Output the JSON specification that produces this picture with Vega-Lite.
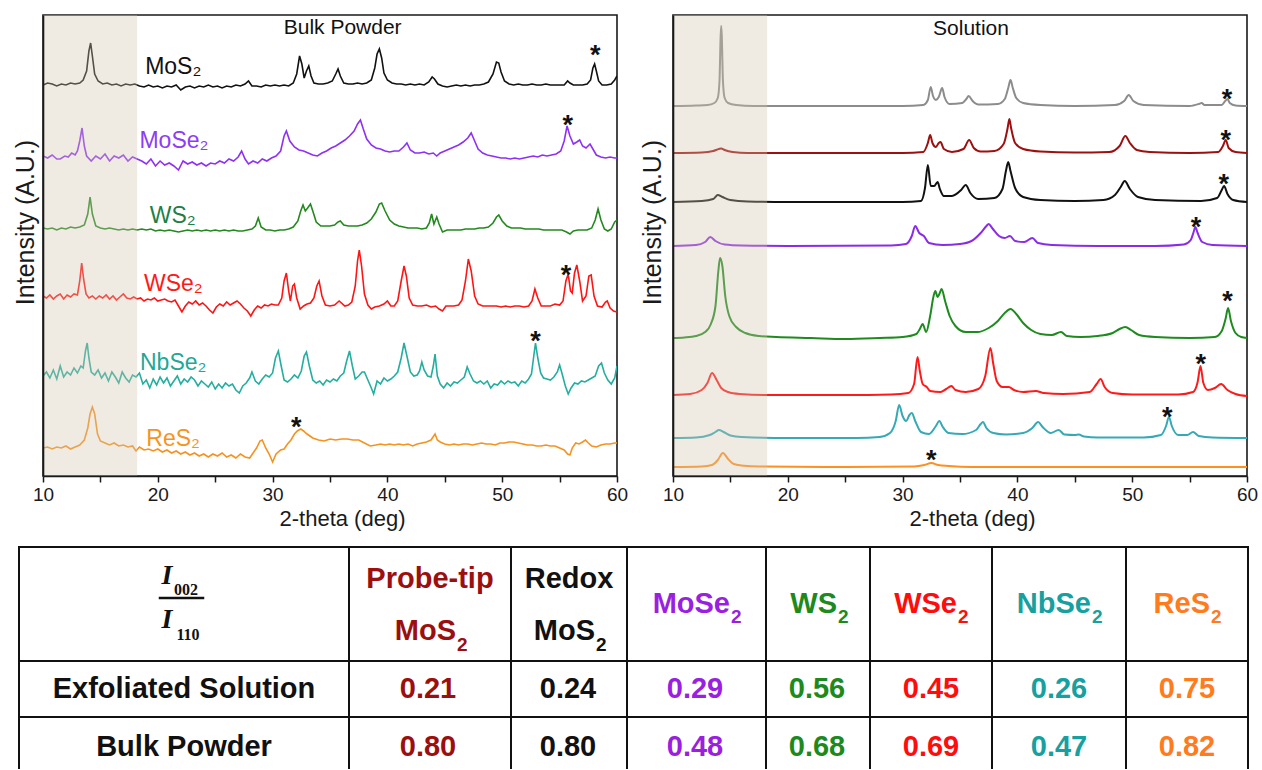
{
  "$schema": "https://vega.github.io/schema/vega-lite/v6.json",
  "background": "white",
  "padding": {"left": 12, "top": 14, "right": 0, "bottom": 0},
  "spacing": 15,
  "config": {
    "font": "Liberation Sans",
    "view": {"stroke": "#1a1a1a", "strokeWidth": 1.6}
  },
  "datasets": {
    "bulk": [
      {"s": "MoS2", "c": "#111111", "p": [[10,391],[10.4,393],[10.8,392],[11.2,390],[11.6,392],[12,391],[12.4,393],[12.8,392],[13.2,393],[13.5,396],[13.8,405],[14,425],[14.15,433],[14.3,420],[14.5,402],[14.8,395],[15.2,392],[15.6,393],[16,391],[16.4,392],[16.8,390],[17.2,392],[17.6,391],[18,392],[18.4,390],[18.8,389],[19.2,391],[19.6,389],[20,390],[20.4,388],[20.8,390],[21.2,389],[21.6,391],[22,386],[22.4,389],[22.8,390],[23.2,388],[23.6,390],[24,389],[24.4,391],[24.8,389],[25.2,390],[25.6,388],[26,390],[26.4,389],[26.8,391],[27.2,390],[27.6,392],[27.9,395],[28.2,390],[28.6,390],[29,389],[29.4,391],[29.8,390],[30.2,391],[30.6,390],[31,391],[31.4,390],[31.8,393],[32.1,402],[32.35,420],[32.55,412],[32.75,398],[32.95,405],[33.15,410],[33.35,400],[33.6,393],[34,392],[34.4,392],[34.8,393],[35.2,395],[35.5,402],[35.7,407],[35.9,400],[36.2,393],[36.6,392],[37,392],[37.4,393],[37.8,392],[38.2,393],[38.6,396],[38.9,408],[39.1,422],[39.3,427],[39.5,418],[39.7,403],[40,396],[40.4,393],[40.8,392],[41.2,392],[41.6,391],[42,392],[42.4,391],[42.8,392],[43.2,391],[43.6,394],[43.9,399],[44.1,397],[44.4,392],[44.8,390],[45.2,389],[45.6,390],[46,391],[46.4,390],[46.8,391],[47.2,390],[47.6,391],[48,391],[48.4,392],[48.8,394],[49.2,402],[49.5,414],[49.7,413],[49.9,404],[50.2,395],[50.6,392],[51,391],[51.4,392],[51.8,391],[52.2,391],[52.6,392],[53,391],[53.4,391],[53.8,392],[54.2,391],[54.6,391],[55,391],[55.4,391],[55.7,395],[55.9,393],[56.2,391],[56.6,391],[57,391],[57.4,392],[57.7,396],[57.9,408],[58.05,412],[58.2,405],[58.4,395],[58.7,391],[59.1,391],[59.5,392],[59.8,396],[60,400]]},
      {"s": "MoSe2", "c": "#8E30F5", "p": [[10,320],[10.4,318],[10.8,321],[11.2,317],[11.5,317],[11.9,320],[12.2,319],[12.5,323],[12.8,321],[13,325],[13.2,335],[13.4,348],[13.6,330],[13.8,320],[14.2,315],[14.6,320],[15,317],[15.4,322],[15.8,315],[16.2,320],[16.6,318],[17,321],[17.4,315],[17.8,319],[18.2,317],[18.6,315],[19,312],[19.4,317],[19.8,310],[20.2,315],[20.6,311],[21,313],[21.4,310],[21.8,306],[22.2,315],[22.6,312],[23,314],[23.4,311],[23.8,313],[24.2,310],[24.6,313],[25,312],[25.4,315],[25.8,313],[26.2,317],[26.6,315],[27,319],[27.3,325],[27.6,317],[27.9,312],[28.3,315],[28.7,313],[29.1,317],[29.5,315],[29.9,318],[30.3,320],[30.7,325],[31,340],[31.2,345],[31.5,335],[31.9,329],[32.3,326],[32.7,325],[33.1,323],[33.5,321],[33.9,320],[34.3,323],[34.7,325],[35.1,328],[35.5,330],[35.9,333],[36.3,336],[36.7,340],[37.1,345],[37.4,352],[37.65,356],[37.9,347],[38.2,337],[38.6,331],[39,328],[39.4,327],[39.8,325],[40.2,324],[40.6,325],[41,325],[41.4,329],[41.7,333],[42,326],[42.4,323],[42.8,323],[43.2,324],[43.6,322],[44,323],[44.3,320],[44.6,323],[45,325],[45.4,327],[45.8,329],[46.2,331],[46.6,334],[47,338],[47.3,343],[47.6,335],[47.9,327],[48.3,323],[48.7,321],[49.1,320],[49.5,319],[49.9,318],[50.3,318],[50.7,317],[51.1,318],[51.5,317],[51.9,318],[52.3,319],[52.7,320],[53.1,319],[53.5,321],[53.9,320],[54.3,321],[54.7,322],[55.1,325],[55.4,335],[55.65,350],[55.9,340],[56.2,332],[56.5,334],[56.75,336],[57,330],[57.3,328],[57.65,332],[57.9,327],[58.2,321],[58.6,319],[59,318],[59.4,319],[59.8,318],[60,318]]},
      {"s": "WS2", "c": "#23891F", "p": [[10,248],[10.4,247],[10.8,248],[11.2,246],[11.6,248],[12,247],[12.4,249],[12.8,248],[13.2,249],[13.6,251],[13.9,262],[14.1,279],[14.3,262],[14.6,250],[15,248],[15.4,247],[15.8,248],[16.2,247],[16.6,246],[17,247],[17.4,246],[17.8,247],[18.2,246],[18.6,247],[19,246],[19.4,247],[19.8,245],[20.2,246],[20.6,245],[21,246],[21.4,245],[21.8,244],[22.2,245],[22.6,246],[23,245],[23.4,246],[23.8,245],[24.2,246],[24.6,245],[25,246],[25.4,245],[25.8,246],[26.2,245],[26.6,246],[27,245],[27.4,245],[27.8,246],[28.2,247],[28.5,250],[28.75,258],[29,249],[29.4,246],[29.8,246],[30.2,245],[30.6,246],[31,246],[31.4,247],[31.8,249],[32.2,255],[32.45,265],[32.65,271],[32.85,265],[33.05,268],[33.3,272],[33.5,265],[33.8,254],[34.2,250],[34.6,250],[35,250],[35.4,251],[35.7,254],[35.9,255],[36.2,251],[36.6,250],[37,250],[37.4,250],[37.8,251],[38.2,253],[38.6,257],[39,264],[39.3,272],[39.5,273],[39.8,265],[40.2,256],[40.6,252],[41,250],[41.4,249],[41.8,248],[42.2,248],[42.6,248],[43,247],[43.4,248],[43.65,253],[43.85,262],[44.05,252],[44.3,259],[44.5,252],[44.8,244],[45.2,246],[45.6,246],[46,246],[46.4,246],[46.8,247],[47.2,247],[47.6,247],[48,248],[48.4,248],[48.8,249],[49.2,253],[49.5,259],[49.7,261],[50,255],[50.4,250],[50.8,248],[51.2,248],[51.6,248],[52,247],[52.4,247],[52.8,247],[53.2,247],[53.6,246],[54,246],[54.4,246],[54.8,246],[55.2,246],[55.6,244],[55.9,242],[56.2,245],[56.6,246],[57,246],[57.4,246],[57.8,248],[58.1,256],[58.35,267],[58.6,256],[58.9,247],[59.2,245],[59.5,247],[59.8,254],[60,256]]},
      {"s": "WSe2", "c": "#FF1414", "p": [[10,180],[10.3,178],[10.6,181],[10.9,177],[11.2,180],[11.5,182],[11.8,177],[12.1,181],[12.4,179],[12.7,182],[13,181],[13.2,195],[13.37,213],[13.55,196],[13.75,182],[14,178],[14.3,180],[14.6,177],[14.9,180],[15.2,178],[15.5,181],[15.8,177],[16.1,180],[16.4,176],[16.7,179],[17,182],[17.3,178],[17.6,177],[17.9,179],[18.2,177],[18.5,178],[18.8,175],[19.1,177],[19.4,176],[19.7,178],[20,175],[20.3,176],[20.6,177],[20.9,175],[21.2,174],[21.5,176],[21.8,170],[22.1,164],[22.4,170],[22.7,174],[23,172],[23.3,175],[23.6,171],[23.9,173],[24.2,170],[24.5,166],[24.8,163],[25.1,169],[25.4,172],[25.7,170],[26,174],[26.3,171],[26.6,173],[26.9,175],[27.2,172],[27.5,168],[27.8,165],[28.1,160],[28.4,166],[28.7,170],[29,168],[29.3,171],[29.6,170],[29.9,172],[30.2,171],[30.5,171],[30.8,178],[31,195],[31.2,203],[31.4,185],[31.55,175],[31.75,190],[31.9,192],[32.1,178],[32.4,167],[32.7,170],[33,172],[33.3,173],[33.6,178],[33.85,190],[34.05,195],[34.3,180],[34.6,171],[35,170],[35.4,171],[35.8,175],[36,173],[36.3,170],[36.6,171],[36.9,174],[37.2,190],[37.4,215],[37.55,226],[37.75,210],[38,182],[38.3,171],[38.6,167],[38.9,169],[39.3,170],[39.7,172],[40,175],[40.3,170],[40.6,170],[40.9,175],[41.2,195],[41.45,210],[41.65,200],[41.9,178],[42.2,171],[42.6,170],[43,170],[43.4,171],[43.8,169],[44.2,170],[44.5,167],[44.8,165],[45.1,170],[45.4,170],[45.8,170],[46.2,171],[46.5,176],[46.8,195],[47.05,217],[47.3,205],[47.6,180],[47.9,172],[48.3,170],[48.7,170],[49.1,170],[49.5,170],[49.9,169],[50.3,170],[50.7,169],[51.1,170],[51.5,170],[51.9,169],[52.3,170],[52.6,175],[52.85,187],[53.1,178],[53.4,170],[53.8,170],[54.2,170],[54.6,172],[55,171],[55.3,175],[55.55,195],[55.75,202],[55.95,185],[56.1,183],[56.3,203],[56.5,211],[56.75,195],[57,175],[57.3,180],[57.55,200],[57.75,201],[58,180],[58.3,170],[58.7,169],[59,174],[59.15,175],[59.4,168],[59.7,165],[60,164]]},
      {"s": "NbSe2", "c": "#23AE9F", "p": [[10,100],[10.3,104],[10.6,98],[10.9,106],[11.2,97],[11.5,110],[11.8,99],[12.1,104],[12.4,101],[12.7,108],[13,103],[13.3,110],[13.5,108],[13.7,125],[13.85,133],[14,118],[14.2,104],[14.5,101],[14.8,106],[15.1,98],[15.4,103],[15.7,95],[16,104],[16.3,99],[16.6,93],[16.9,104],[17.2,98],[17.5,94],[17.8,101],[18.1,99],[18.4,103],[18.7,92],[19,96],[19.3,88],[19.6,97],[19.9,91],[20.2,99],[20.5,93],[20.8,98],[21.1,90],[21.4,95],[21.7,100],[22,92],[22.3,97],[22.6,94],[22.9,99],[23.2,96],[23.5,90],[23.8,95],[24.1,92],[24.4,89],[24.7,94],[25,87],[25.3,92],[25.6,88],[25.9,93],[26.2,90],[26.5,92],[26.8,86],[27.1,83],[27.4,90],[27.7,93],[28,98],[28.2,104],[28.5,95],[28.8,92],[29.1,97],[29.4,101],[29.7,99],[30,103],[30.25,118],[30.5,125],[30.75,110],[31,96],[31.3,94],[31.6,97],[31.9,101],[32.2,98],[32.5,105],[32.75,120],[32.95,124],[33.2,110],[33.5,96],[33.8,93],[34.1,95],[34.4,91],[34.7,96],[35,94],[35.3,97],[35.6,95],[35.9,100],[36.2,103],[36.45,115],[36.7,125],[36.95,110],[37.2,97],[37.5,100],[37.8,104],[38,104],[38.3,96],[38.6,88],[38.8,82],[39.1,95],[39.4,92],[39.7,98],[40,95],[40.3,97],[40.6,100],[40.9,104],[41.2,118],[41.45,133],[41.7,120],[42,104],[42.3,100],[42.6,101],[42.8,105],[43,114],[43.2,106],[43.5,100],[43.8,99],[44,110],[44.15,122],[44.35,100],[44.6,92],[44.9,88],[45.2,93],[45.5,90],[45.8,94],[46.1,93],[46.4,96],[46.7,99],[46.95,109],[47.2,102],[47.5,95],[47.8,93],[48.1,95],[48.4,92],[48.7,95],[49,88],[49.3,92],[49.6,91],[49.9,95],[50.2,92],[50.5,95],[50.8,93],[51.1,94],[51.4,90],[51.7,95],[52,93],[52.3,97],[52.55,102],[52.75,120],[52.9,133],[53.1,118],[53.35,103],[53.6,98],[53.9,97],[54.2,96],[54.5,99],[54.8,104],[55,111],[55.2,103],[55.5,90],[55.75,82],[56,88],[56.3,93],[56.6,92],[56.9,95],[57.2,94],[57.5,96],[57.8,98],[58.1,100],[58.4,110],[58.65,113],[58.9,103],[59.2,96],[59.5,92],[59.8,98],[60,110]]},
      {"s": "ReS2", "c": "#F7921E", "p": [[10,28],[10.4,29],[10.8,27],[11.2,29],[11.6,28],[12,30],[12.4,27],[12.8,29],[13.2,31],[13.6,36],[13.9,48],[14.1,62],[14.3,69],[14.5,62],[14.75,42],[15,35],[15.4,33],[15.8,31],[16.2,33],[16.6,30],[17,31],[17.4,29],[17.8,30],[18.1,25],[18.4,29],[18.8,26],[19.2,27],[19.6,25],[20,27],[20.4,24],[20.8,26],[21.2,23],[21.6,25],[22,22],[22.4,24],[22.8,21],[23.2,23],[23.6,20],[24,22],[24.4,19],[24.8,22],[25.2,20],[25.6,23],[26,19],[26.4,21],[26.8,18],[27.2,22],[27.6,19],[28,18],[28.3,23],[28.6,28],[28.9,35],[29.1,36],[29.4,28],[29.7,22],[30,14],[30.3,22],[30.7,26],[31,27],[31.3,32],[31.6,36],[31.9,42],[32.15,45],[32.45,47],[32.7,45],[33,42],[33.5,38],[34,36],[34.5,35],[35,37],[35.5,36],[36,37],[36.5,37],[37,36],[37.5,36],[38,33],[38.5,30],[39,31],[39.4,32],[39.8,31],[40.2,32],[40.6,31],[41,32],[41.4,31],[41.8,32],[42.2,30],[42.6,32],[43,33],[43.4,34],[43.8,36],[44.15,42],[44.35,36],[44.6,34],[45,32],[45.4,31],[45.8,32],[46.2,31],[46.6,32],[47,32],[47.4,31],[47.8,32],[48.2,33],[48.6,32],[49,32],[49.4,31],[49.8,33],[50.2,33],[50.6,34],[51,34],[51.4,33],[51.8,32],[52.2,31],[52.6,31],[53,30],[53.4,30],[53.8,31],[54.2,30],[54.6,30],[55,28],[55.4,26],[55.7,22],[55.9,21],[56.1,28],[56.4,33],[56.7,32],[57,34],[57.25,36],[57.5,33],[57.8,30],[58.2,29],[58.6,31],[59,32],[59.4,32],[59.8,33],[60,33]]}
    ],
    "bulkLabels": [
      {"x": 18.9, "y": 409, "t": "MoS₂", "c": "#111111"},
      {"x": 18.4, "y": 335, "t": "MoSe₂", "c": "#8E3CF5"},
      {"x": 19.3, "y": 260, "t": "WS₂", "c": "#1F7F45"},
      {"x": 18.8, "y": 192, "t": "WSe₂", "c": "#FF1A1A"},
      {"x": 18.45, "y": 113, "t": "NbSe₂", "c": "#1FA896"},
      {"x": 19.0, "y": 37, "t": "ReS₂", "c": "#F7941D"}
    ],
    "bulkStars": [
      {"x": 58.1, "y": 427},
      {"x": 55.7, "y": 357},
      {"x": 55.55, "y": 207},
      {"x": 52.9, "y": 141},
      {"x": 32.05, "y": 55}
    ],
    "solution": [
      {"s": "gray", "c": "#8C8C8C", "p": [[10,370],[12,370.5],[13,371],[13.6,373],[13.9,378],[14.05,395],[14.15,440],[14.2,450],[14.25,440],[14.35,395],[14.5,378],[14.8,373],[15.5,371],[17,370],[20,370],[25,370],[30,370],[31.8,371],[32.2,376],[32.45,389],[32.65,380],[32.9,376],[33.15,379],[33.45,388],[33.65,379],[34.1,372],[35.2,373],[35.55,377],[35.75,380],[36.1,375],[36.6,371.5],[38.3,372],[38.9,377],[39.2,388],[39.4,396],[39.6,388],[39.9,378],[40.5,373],[42,371],[45,370],[48.5,371],[49.3,375],[49.7,381],[50.1,375],[51,371],[55,370],[55.8,372],[56.05,373],[56.3,371],[57.8,371],[58.1,375],[58.3,377],[58.5,373],[59,370.5],[60,370]]},
      {"s": "darkred", "c": "#9E1010", "p": [[10,323],[12.5,323.5],[13.5,325],[14,327],[14.2,327.5],[14.5,326],[15.2,324],[16.5,323],[20,323],[30,323],[31.8,324],[32.2,333],[32.4,341],[32.6,333],[32.9,329],[33.15,333],[33.3,334],[33.6,327],[34.3,324],[35.3,327],[35.8,336],[36.2,328],[36.8,324.5],[38,325],[38.8,332],[39.15,348],[39.3,357],[39.45,348],[39.8,333],[40.5,327],[42,324.5],[45,323.5],[48,324],[48.9,330],[49.4,340],[49.8,333],[50.4,326],[51.5,324],[55,323],[57.5,324],[57.9,330],[58.15,336],[58.4,328],[59,324],[60,323]]},
      {"s": "black", "c": "#111111", "p": [[10,274],[12.5,275],[13.5,277],[13.9,281],[14.3,279],[15,276],[16.5,274.5],[20,274],[30,274],[31.6,275],[31.95,288],[32.2,311],[32.45,290],[32.75,290],[33.05,294],[33.25,287],[33.6,280],[34.3,280],[35.1,286],[35.5,291],[35.9,283],[36.6,277],[38,278],[38.7,287],[39,305],[39.2,314],[39.4,305],[39.8,288],[40.5,279],[42,276],[45,275],[47.5,276],[48.5,281],[49,289],[49.35,295],[49.8,287],[50.5,279],[52,276],[56,275],[57.4,278],[57.8,286],[58,290],[58.3,282],[58.8,276],[60,274]]},
      {"s": "purple", "c": "#8A2BE8", "p": [[10,230],[12,231],[12.8,234],[13.25,239],[13.7,235],[14.5,231.5],[16,230.5],[20,230],[29,230.5],[30.3,232],[30.8,240],[31.1,250],[31.45,243],[31.85,240],[32.3,233],[33.5,231],[35,232],[36,235],[36.8,243],[37.3,250],[37.5,252],[37.8,248],[38.4,240],[38.9,238],[39.35,240],[39.8,235],[40.6,234],[41.3,238],[41.8,233],[43,231],[47,230],[52,230],[54.5,231.5],[55.1,236],[55.35,244],[55.5,249],[55.7,243],[56.1,234],[57,231],[60,230]]},
      {"s": "green", "c": "#1E8B1E", "p": [[10,138],[11,138.5],[12,140],[12.8,144],[13.3,152],[13.7,170],[13.95,205],[14.1,218],[14.3,210],[14.55,180],[14.9,160],[15.5,149],[16.3,143],[17.5,140],[19,139],[22,138],[25,137],[28,138],[30,139],[31.2,142],[31.5,147],[31.75,152],[32.05,144],[32.4,160],[32.7,180],[32.85,185],[33.05,179],[33.2,182],[33.4,187],[33.7,175],[34.1,160],[34.6,150],[35.5,144],[36.5,144],[37.5,148],[38.3,155],[38.9,163],[39.4,167],[39.9,162],[40.5,153],[41.2,146],[42,142],[43,141],[43.8,144],[44.3,140],[45.5,139],[47,140],[48.3,143],[48.9,147],[49.4,149],[49.9,146],[50.6,141],[52,139],[55,138],[57.2,139],[57.8,145],[58.15,158],[58.35,168],[58.6,155],[59,143],[59.5,139],[60,138]]},
      {"s": "red", "c": "#FF1A1A", "p": [[10,81],[11.5,82],[12.5,86],[13,93],[13.4,103],[13.8,96],[14.2,88],[14.8,84],[15.8,82],[18,81],[25,81],[29,81.5],[30.5,83],[31,92],[31.3,119],[31.5,105],[31.75,92],[32.1,89],[32.4,85],[33.3,84],[33.8,87],[34.25,90],[34.6,86],[35.5,84],[36.6,87],[37.2,100],[37.65,128],[37.9,112],[38.2,95],[38.7,89],[39.25,89],[39.7,86],[40.5,84],[41.6,85],[42.3,83],[44,82],[46.3,84],[46.9,92],[47.25,97],[47.6,89],[48.3,83],[50,81.5],[54,81.5],[55.3,84],[55.7,94],[55.95,110],[56.2,93],[56.6,86],[57.2,88],[57.75,92],[58.3,86],[59,82],[60,80]]},
      {"s": "teal", "c": "#35A9B5", "p": [[10,38],[12,38.5],[13.2,41],[13.7,44],[14,46],[14.4,44],[15,40.5],[16,39],[20,38],[26,38],[28,39],[28.9,43],[29.4,55],[29.7,71],[30,60],[30.3,55],[30.6,61],[30.8,63],[31.1,55],[31.6,44],[32.3,42],[32.9,50],[33.2,55],[33.5,49],[34,43],[35.2,42],[36.4,46],[36.8,52],[37,54],[37.3,48],[37.9,43],[39,41.5],[40.5,43],[41.3,48],[41.8,54],[42.2,49],[42.9,43],[43.6,46],[44.1,41.5],[45,41],[45.35,41.5],[45.8,39.5],[47,38.5],[51,38.5],[52.5,41],[52.95,50],[53.2,59],[53.45,50],[54,41],[54.8,41],[55.3,44],[55.8,40],[57,38.5],[60,38]]},
      {"s": "orange", "c": "#FF8F1F", "p": [[10,9],[12.5,9.5],[13.4,11],[13.9,16],[14.35,23],[14.8,17],[15.3,12],[16.5,10],[18,9.5],[25,9],[31,9.5],[31.9,11],[32.5,13],[33.1,11],[34,10],[36,9],[60,9]]}
    ],
    "solutionStars": [
      {"x": 58.25, "y": 383},
      {"x": 58.15, "y": 342},
      {"x": 57.97, "y": 298},
      {"x": 55.55, "y": 255},
      {"x": 58.3, "y": 181},
      {"x": 55.97, "y": 118},
      {"x": 53.06, "y": 65},
      {"x": 32.5, "y": 22}
    ],
    "tableGrid": [
      {"x1": 18, "x2": 1247, "y1": 0, "y2": 0, "w": 2},
      {"x1": 18, "x2": 1247, "y1": 114, "y2": 114, "w": 2},
      {"x1": 18, "x2": 1247, "y1": 170, "y2": 170, "w": 2},
      {"x1": 18, "x2": 18, "y1": 0, "y2": 221, "w": 2},
      {"x1": 348, "x2": 348, "y1": 0, "y2": 221, "w": 2},
      {"x1": 510, "x2": 510, "y1": 0, "y2": 221, "w": 2},
      {"x1": 626, "x2": 626, "y1": 0, "y2": 221, "w": 2},
      {"x1": 765, "x2": 765, "y1": 0, "y2": 221, "w": 2},
      {"x1": 869, "x2": 869, "y1": 0, "y2": 221, "w": 2},
      {"x1": 991, "x2": 991, "y1": 0, "y2": 221, "w": 2},
      {"x1": 1125, "x2": 1125, "y1": 0, "y2": 221, "w": 2},
      {"x1": 1247, "x2": 1247, "y1": 0, "y2": 221, "w": 2},
      {"x1": 159, "x2": 202, "y1": 51, "y2": 51, "w": 2.5}
    ],
    "tableCentered": [
      {"tx": 183, "ty": 151, "t": "Exfoliated Solution", "c": "#111111"},
      {"tx": 183, "ty": 209, "t": "Bulk Powder", "c": "#111111"},
      {"tx": 429, "ty": 41, "t": "Probe-tip", "c": "#9C0F0F"},
      {"tx": 568, "ty": 41, "t": "Redox", "c": "#111111"},
      {"tx": 427, "ty": 151, "t": "0.21", "c": "#9C0F0F"},
      {"tx": 567, "ty": 151, "t": "0.24", "c": "#111111"},
      {"tx": 694, "ty": 151, "t": "0.29", "c": "#9B1FE0"},
      {"tx": 816, "ty": 151, "t": "0.56", "c": "#1C8A1C"},
      {"tx": 930, "ty": 151, "t": "0.45", "c": "#FF0D0D"},
      {"tx": 1058, "ty": 151, "t": "0.26", "c": "#17A0A0"},
      {"tx": 1186, "ty": 151, "t": "0.75", "c": "#FF7B1C"},
      {"tx": 427, "ty": 209, "t": "0.80", "c": "#9C0F0F"},
      {"tx": 567, "ty": 209, "t": "0.80", "c": "#111111"},
      {"tx": 694, "ty": 209, "t": "0.48", "c": "#9B1FE0"},
      {"tx": 816, "ty": 209, "t": "0.68", "c": "#1C8A1C"},
      {"tx": 930, "ty": 209, "t": "0.69", "c": "#FF0D0D"},
      {"tx": 1058, "ty": 209, "t": "0.47", "c": "#17A0A0"},
      {"tx": 1186, "ty": 209, "t": "0.82", "c": "#FF7B1C"}
    ],
    "tableFormula": [
      {"tx": 455, "ty": 93, "t": "MoS", "sx": 456, "sy": 104, "c": "#9C0F0F"},
      {"tx": 594, "ty": 93, "t": "MoS", "sx": 595, "sy": 104, "c": "#111111"},
      {"tx": 729, "ty": 66, "t": "MoSe", "sx": 730, "sy": 76, "c": "#9B1FE0"},
      {"tx": 836, "ty": 66, "t": "WS", "sx": 837, "sy": 76, "c": "#1C8A1C"},
      {"tx": 956, "ty": 66, "t": "WSe", "sx": 957, "sy": 76, "c": "#FF0D0D"},
      {"tx": 1090, "ty": 66, "t": "NbSe", "sx": 1091, "sy": 76, "c": "#17A0A0"},
      {"tx": 1209, "ty": 66, "t": "ReS", "sx": 1210, "sy": 76, "c": "#FF7B1C"}
    ],
    "ratioI": [
      {"tx": 166, "ty": 37, "t": "I"},
      {"tx": 166, "ty": 81, "t": "I"}
    ],
    "ratioSub": [
      {"tx": 185, "ty": 48, "t": "002"},
      {"tx": 187, "ty": 93, "t": "110"}
    ]
  },
  "vconcat": [
    {
      "spacing": 10,
      "hconcat": [
        {
          "width": 574,
          "height": 461,
          "layer": [
            {
              "data": {"name": "bulk"},
              "transform": [{"flatten": ["p"]}],
              "mark": {"type": "line", "strokeWidth": 1.6, "interpolate": "linear", "clip": true},
              "encoding": {
                "x": {"field": "p[0]", "type": "quantitative", "title": "2-theta (deg)",
                  "scale": {"domain": [10, 60], "nice": false, "zero": false},
                  "axis": {"values": [10,15,20,25,30,35,40,45,50,55,60], "labelExpr": "datum.value % 10 === 0 ? datum.label : ''",
                    "labelOverlap": false, "labelFlush": false, "grid": false, "tickSize": 6, "tickWidth": 1.5, "tickColor": "#1a1a1a",
                    "domainColor": "#1a1a1a", "domainWidth": 1.6, "labelFontSize": 19, "labelColor": "#1a1a1a", "labelPadding": 3,
                    "titleFontSize": 22, "titleFontWeight": "normal", "titleColor": "#1a1a1a", "titlePadding": 4, "titleX": 299, "zindex": 1}},
                "y": {"field": "p[1]", "type": "quantitative", "title": "Intensity (A.U.)",
                  "scale": {"domain": [0, 461], "nice": false, "zero": false},
                  "axis": {"labels": false, "ticks": false, "grid": false, "domainColor": "#1a1a1a", "domainWidth": 1.6,
                    "titleFontSize": 25, "titleFontWeight": "normal", "titleColor": "#1a1a1a", "titlePadding": 5, "titleY": 207, "zindex": 1}},
                "color": {"field": "c", "type": "nominal", "scale": null},
                "detail": {"field": "s"}
              }
            },
            {
              "data": {"values": [{"from": 10, "to": 18.2}]},
              "mark": {"type": "rect", "color": "#d1c3ac", "opacity": 0.35},
              "encoding": {
                "x": {"field": "from", "type": "quantitative", "title": "2-theta (deg)"},
                "x2": {"field": "to"}
              }
            },
            {
              "data": {"name": "bulkLabels"},
              "mark": {"type": "text", "align": "left", "baseline": "middle", "fontSize": 23},
              "encoding": {
                "x": {"field": "x", "type": "quantitative", "title": "2-theta (deg)"},
                "y": {"field": "y", "type": "quantitative", "title": "Intensity (A.U.)"},
                "text": {"field": "t"},
                "color": {"field": "c", "type": "nominal", "scale": null}
              }
            },
            {
              "data": {"name": "bulkStars"},
              "mark": {"type": "text", "text": "*", "align": "center", "baseline": "alphabetic", "fontSize": 27, "fontWeight": "bold", "dy": 15, "color": "#111111"},
              "encoding": {
                "x": {"field": "x", "type": "quantitative", "title": "2-theta (deg)"},
                "y": {"field": "y", "type": "quantitative", "title": "Intensity (A.U.)"}
              }
            },
            {
              "data": {"values": [{"x": 36.1, "y": 448, "t": "Bulk Powder"}]},
              "mark": {"type": "text", "align": "center", "baseline": "middle", "fontSize": 21, "color": "#111111"},
              "encoding": {
                "x": {"field": "x", "type": "quantitative", "title": "2-theta (deg)"},
                "y": {"field": "y", "type": "quantitative", "title": "Intensity (A.U.)"},
                "text": {"field": "t"}
              }
            }
          ]
        },
        {
          "width": 574,
          "height": 461,
          "layer": [
            {
              "data": {"name": "solution"},
              "transform": [{"flatten": ["p"]}],
              "mark": {"type": "line", "strokeWidth": 2, "interpolate": "monotone", "clip": true},
              "encoding": {
                "x": {"field": "p[0]", "type": "quantitative", "title": "2-theta (deg)",
                  "scale": {"domain": [10, 60], "nice": false, "zero": false},
                  "axis": {"values": [10,15,20,25,30,35,40,45,50,55,60], "labelExpr": "datum.value % 10 === 0 ? datum.label : ''",
                    "labelOverlap": false, "labelFlush": false, "grid": false, "tickSize": 6, "tickWidth": 1.5, "tickColor": "#1a1a1a",
                    "domainColor": "#1a1a1a", "domainWidth": 1.6, "labelFontSize": 19, "labelColor": "#1a1a1a", "labelPadding": 3,
                    "titleFontSize": 22, "titleFontWeight": "normal", "titleColor": "#1a1a1a", "titlePadding": 4, "titleX": 299, "zindex": 1}},
                "y": {"field": "p[1]", "type": "quantitative", "title": "Intensity (A.U.)",
                  "scale": {"domain": [0, 461], "nice": false, "zero": false},
                  "axis": {"labels": false, "ticks": false, "grid": false, "domainColor": "#1a1a1a", "domainWidth": 1.6,
                    "titleFontSize": 25, "titleFontWeight": "normal", "titleColor": "#1a1a1a", "titlePadding": 8, "titleY": 207, "zindex": 1}},
                "color": {"field": "c", "type": "nominal", "scale": null},
                "detail": {"field": "s"}
              }
            },
            {
              "data": {"values": [{"from": 10, "to": 18.2}]},
              "mark": {"type": "rect", "color": "#d1c3ac", "opacity": 0.35},
              "encoding": {
                "x": {"field": "from", "type": "quantitative", "title": "2-theta (deg)"},
                "x2": {"field": "to"}
              }
            },
            {
              "data": {"name": "solutionStars"},
              "mark": {"type": "text", "text": "*", "align": "center", "baseline": "alphabetic", "fontSize": 27, "fontWeight": "bold", "dy": 15, "color": "#111111"},
              "encoding": {
                "x": {"field": "x", "type": "quantitative", "title": "2-theta (deg)"},
                "y": {"field": "y", "type": "quantitative", "title": "Intensity (A.U.)"}
              }
            },
            {
              "data": {"values": [{"x": 35.96, "y": 447, "t": "Solution"}]},
              "mark": {"type": "text", "align": "center", "baseline": "middle", "fontSize": 21, "color": "#111111"},
              "encoding": {
                "x": {"field": "x", "type": "quantitative", "title": "2-theta (deg)"},
                "y": {"field": "y", "type": "quantitative", "title": "Intensity (A.U.)"},
                "text": {"field": "t"}
              }
            }
          ]
        }
      ]
    },
    {
      "width": 1220,
      "height": 221,
      "view": {"stroke": null},
      "layer": [
        {
          "data": {"name": "tableGrid"},
          "mark": {"type": "rule", "color": "#111111", "strokeCap": "square"},
          "encoding": {
            "x": {"field": "x1", "type": "quantitative", "scale": {"domain": [42, 1262], "nice": false, "zero": false}, "axis": null},
            "x2": {"field": "x2"},
            "y": {"field": "y1", "type": "quantitative", "scale": {"domain": [0, 221], "reverse": true, "nice": false, "zero": false}, "axis": null},
            "y2": {"field": "y2"},
            "strokeWidth": {"field": "w", "type": "quantitative", "scale": null}
          }
        },
        {
          "data": {"name": "tableCentered"},
          "mark": {"type": "text", "align": "center", "baseline": "alphabetic", "fontWeight": "bold", "font": "Liberation Sans", "fontSize": 29},
          "encoding": {
            "x": {"field": "tx", "type": "quantitative"},
            "y": {"field": "ty", "type": "quantitative"},
            "text": {"field": "t"},
            "color": {"field": "c", "type": "nominal", "scale": null}
          }
        },
        {
          "data": {"name": "tableFormula"},
          "mark": {"type": "text", "align": "right", "baseline": "alphabetic", "fontWeight": "bold", "font": "Liberation Sans", "fontSize": 29},
          "encoding": {
            "x": {"field": "tx", "type": "quantitative"},
            "y": {"field": "ty", "type": "quantitative"},
            "text": {"field": "t"},
            "color": {"field": "c", "type": "nominal", "scale": null}
          }
        },
        {
          "data": {"name": "tableFormula"},
          "mark": {"type": "text", "align": "left", "baseline": "alphabetic", "fontWeight": "bold", "font": "Liberation Sans", "fontSize": 19, "text": "2"},
          "encoding": {
            "x": {"field": "sx", "type": "quantitative"},
            "y": {"field": "sy", "type": "quantitative"},
            "color": {"field": "c", "type": "nominal", "scale": null}
          }
        },
        {
          "data": {"name": "ratioI"},
          "mark": {"type": "text", "align": "center", "baseline": "alphabetic", "font": "Liberation Serif", "fontWeight": "bold", "fontStyle": "italic", "fontSize": 28, "color": "#111111"},
          "encoding": {
            "x": {"field": "tx", "type": "quantitative"},
            "y": {"field": "ty", "type": "quantitative"},
            "text": {"field": "t"}
          }
        },
        {
          "data": {"name": "ratioSub"},
          "mark": {"type": "text", "align": "center", "baseline": "alphabetic", "font": "Liberation Serif", "fontWeight": "bold", "fontSize": 16, "color": "#111111"},
          "encoding": {
            "x": {"field": "tx", "type": "quantitative"},
            "y": {"field": "ty", "type": "quantitative"},
            "text": {"field": "t"}
          }
        }
      ]
    }
  ]
}
